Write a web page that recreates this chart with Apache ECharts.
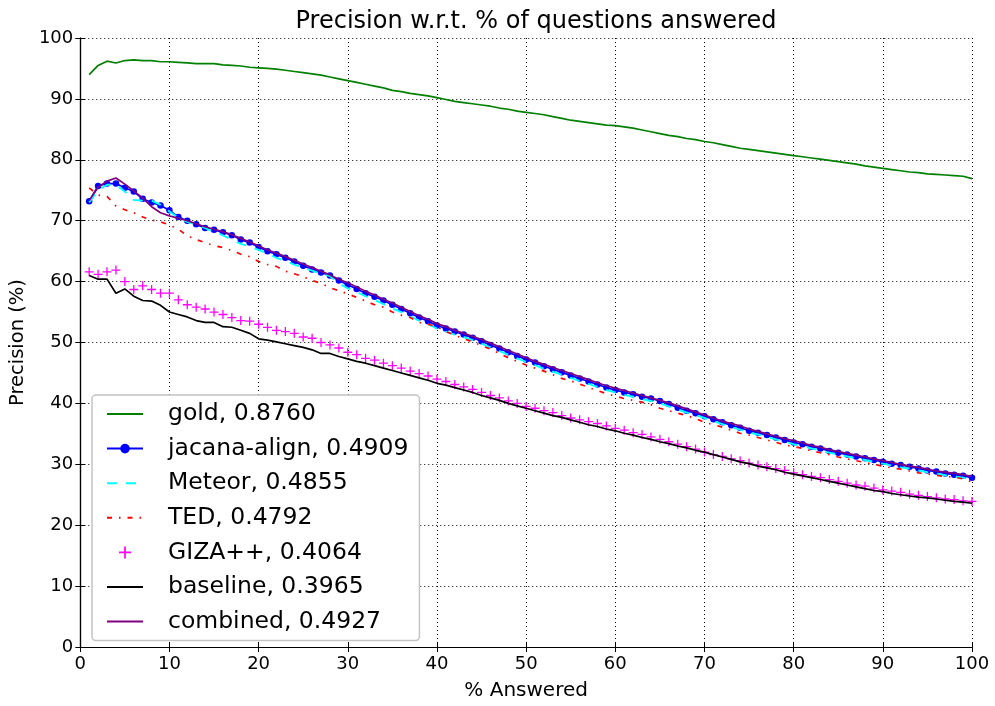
<!DOCTYPE html>
<html>
<head>
<meta charset="utf-8">
<script src="https://cdn.jsdelivr.net/npm/echarts@6/dist/echarts.min.js"></script>
<style>
html,body{margin:0;padding:0;background:#fff;}
#chart{width:995px;height:706px;}
</style>
</head>
<body>
<div id="chart"></div>
<script>
// % answered (x positions)
const answered = Array.from({length: 100}, (_, i) => i + 1);

const gold = [94.0,95.5,96.2,95.9,96.3,96.4,96.3,96.3,96.1,96.1,96.0,95.9,95.8,95.8,95.8,95.6,95.5,95.4,95.2,95.1,
95.0,94.9,94.7,94.5,94.3,94.1,93.9,93.6,93.3,93.0,92.7,92.4,92.1,91.8,91.4,91.2,90.9,90.7,90.5,90.2,
89.9,89.6,89.4,89.2,89.0,88.8,88.5,88.3,88.0,87.8,87.6,87.4,87.1,86.8,86.5,86.3,86.1,85.9,85.7,85.6,
85.4,85.2,84.9,84.6,84.3,84.0,83.8,83.5,83.3,83.0,82.8,82.5,82.2,81.9,81.7,81.5,81.3,81.1,80.9,80.7,
80.5,80.3,80.1,79.9,79.7,79.5,79.3,79.0,78.8,78.6,78.4,78.2,78.0,77.9,77.7,77.6,77.5,77.4,77.3,76.9];

const jacana = [73.2,75.7,76.1,76.1,75.4,74.8,73.6,73.0,72.5,71.7,70.6,70.0,69.4,68.8,68.5,68.1,67.6,66.9,66.4,65.7,
65.0,64.5,63.9,63.3,62.6,62.0,61.5,61.0,60.2,59.5,58.8,58.1,57.5,56.9,56.2,55.5,54.8,54.1,53.5,52.8,
52.3,51.8,51.3,50.8,50.2,49.6,49.0,48.4,47.8,47.2,46.7,46.1,45.6,45.1,44.6,44.1,43.6,43.1,42.6,42.2,
41.8,41.5,41.1,40.8,40.4,39.9,39.3,38.8,38.4,37.9,37.4,36.9,36.4,36.0,35.5,35.2,34.8,34.4,34.0,33.6,
33.3,32.9,32.6,32.2,31.9,31.6,31.3,31.0,30.7,30.4,30.1,29.9,29.6,29.3,29.0,28.8,28.5,28.3,28.1,27.8];

const meteor = [73.0,75.0,75.9,75.9,74.8,73.4,73.3,73.3,72.6,71.5,70.5,69.8,69.4,68.8,68.2,67.6,66.9,66.2,65.8,65.2,
64.6,63.9,63.4,62.8,62.3,61.8,61.3,60.9,59.7,58.9,58.3,57.6,57.0,56.3,55.6,55.0,54.3,53.6,53.0,52.3,
51.8,51.3,50.9,50.4,49.8,49.2,48.6,48.0,47.4,46.8,46.3,45.7,45.2,44.7,44.2,43.7,43.2,42.7,42.2,41.8,
41.4,41.1,40.7,40.4,40.0,39.5,39.0,38.5,38.1,37.6,37.1,36.6,36.1,35.7,35.2,34.9,34.5,34.1,33.7,33.3,
33.0,32.6,32.3,31.9,31.6,31.3,31.0,30.7,30.4,30.1,29.8,29.5,29.3,29.0,28.7,28.5,28.2,28.0,27.8,27.4];

const ted = [75.4,74.2,74.0,72.4,71.8,71.3,70.6,70.1,69.8,69.3,68.6,67.5,66.9,66.4,65.9,65.6,65.1,64.5,64.1,63.3,
62.8,62.5,61.7,61.3,60.8,60.2,59.7,59.0,58.5,58.0,57.4,56.8,56.2,55.8,55.0,54.5,54.1,53.3,53.0,52.6,
51.8,51.2,50.6,50.1,49.5,48.9,48.2,47.5,46.9,46.3,45.8,45.3,44.7,44.1,43.7,43.2,42.6,42.1,41.6,41.2,
40.8,40.5,40.2,39.8,39.2,38.8,38.4,38.0,37.5,36.9,36.5,36.1,35.6,35.1,34.8,34.4,34.0,33.6,33.2,32.9,
32.6,32.2,31.9,31.6,31.2,30.9,30.6,30.3,30.0,29.7,29.4,29.2,28.9,28.6,28.4,28.2,28.0,27.9,27.6,27.1];

const giza = [61.6,61.2,61.6,61.9,60.0,58.7,59.3,58.7,58.1,58.1,57.0,56.2,55.8,55.5,55.0,54.6,54.1,53.6,53.5,53.0,
52.5,52.0,51.8,51.5,50.9,50.7,50.0,49.6,49.1,48.4,48.0,47.4,47.1,46.6,46.2,45.8,45.3,44.9,44.5,44.0,
43.6,43.1,42.7,42.3,41.8,41.3,40.9,40.4,40.0,39.5,39.2,38.8,38.5,38.0,37.6,37.3,37.0,36.7,36.3,35.9,
35.6,35.2,34.9,34.5,34.1,33.7,33.3,32.9,32.5,32.0,31.6,31.3,30.9,30.6,30.2,29.9,29.6,29.3,29.0,28.6,
28.3,28.0,27.8,27.5,27.2,26.9,26.6,26.4,26.1,25.8,25.6,25.4,25.1,24.9,24.7,24.5,24.3,24.2,24.0,23.9];

const baseline = [61.0,60.4,60.4,58.1,58.8,57.6,56.9,56.8,56.1,55.0,54.6,54.2,53.6,53.3,53.3,52.6,52.5,52.0,51.5,50.6,
50.4,50.1,49.8,49.5,49.2,48.8,48.2,48.2,47.7,47.3,46.9,46.6,46.2,45.8,45.4,45.0,44.6,44.2,43.8,43.3,
43.0,42.6,42.2,41.8,41.3,40.9,40.5,40.0,39.6,39.2,38.8,38.4,38.0,37.7,37.3,36.9,36.5,36.2,35.8,35.5,
35.1,34.8,34.4,34.1,33.7,33.4,33.0,32.7,32.3,32.0,31.6,31.2,30.8,30.4,30.1,29.7,29.4,29.1,28.7,28.4,
28.1,27.8,27.5,27.2,26.9,26.6,26.3,26.0,25.7,25.5,25.2,25.0,24.8,24.6,24.5,24.3,24.1,23.9,23.8,23.6];

const combined = [73.3,75.5,76.5,77.0,76.0,74.9,73.7,72.3,71.3,70.8,70.4,70.0,69.5,69.0,68.6,68.2,67.7,67.1,66.5,65.9,
65.2,64.7,64.1,63.5,62.9,62.3,61.7,61.1,60.4,59.8,59.1,58.4,57.8,57.1,56.5,55.8,55.1,54.4,53.8,53.1,
52.6,52.0,51.5,51.0,50.5,49.9,49.3,48.7,48.1,47.5,46.9,46.4,45.9,45.4,44.9,44.4,43.9,43.4,42.9,42.5,
42.1,41.7,41.3,40.9,40.5,40.1,39.6,39.1,38.6,38.1,37.6,37.1,36.7,36.3,35.8,35.4,35.0,34.6,34.2,33.9,
33.5,33.1,32.8,32.4,32.1,31.8,31.5,31.2,30.9,30.6,30.3,30.0,29.7,29.5,29.2,28.9,28.7,28.5,28.3,28.0];

const seriesNames = ['gold, 0.8760','jacana-align, 0.4909','Meteor, 0.4855','TED, 0.4792','GIZA++, 0.4064','baseline, 0.3965','combined, 0.4927'];
const xTicks = [0,10,20,30,40,50,60,70,80,90,100];
const yTicks = [0,10,20,30,40,50,60,70,80,90,100];

const pairs = arr => arr.map((v, i) => [answered[i], v]);
const FONT = 'DejaVu Sans';
const plusPath = 'path://M3.85,0H5.15V3.85H9V5.15H5.15V9H3.85V5.15H0V3.85H3.85Z';

const chart = echarts.init(document.getElementById('chart'), null, {renderer: 'canvas'});

const baseAxis = {
  type: 'value', min: 0, max: 100, interval: 10,
  axisLine: {show: true, lineStyle: {color: '#000', width: 1.2}},
  axisTick: {show: true, inside: true, length: 5, lineStyle: {color: '#000', width: 1}},
  splitLine: {show: false}
};

const noMarker = {itemStyle: {opacity: 0}};

chart.setOption({
  animation: false,
  backgroundColor: '#fff',
  textStyle: {fontFamily: FONT},
  title: {
    text: 'Precision w.r.t. % of questions answered',
    left: 531, top: 5, textAlign: 'center',
    textStyle: {fontFamily: FONT, fontSize: 24, fontWeight: 'normal', color: '#000'}
  },
  grid: {left: 79, right: 23, top: 38, bottom: 53, containLabel: false},
  xAxis: [
    Object.assign({}, baseAxis, {
      position: 'bottom',
      name: '% Answered', nameLocation: 'middle', nameGap: 34,
      nameTextStyle: {fontFamily: FONT, fontSize: 20, color: '#000'},
      axisLabel: {show: true, margin: 8, fontFamily: FONT, fontSize: 18, color: '#000'},
      splitLine: {show: true, lineStyle: {color: '#000', width: 1, type: [1, 3]}}
    }),
    Object.assign({}, baseAxis, {position: 'top', axisLabel: {show: false}})
  ],
  yAxis: [
    Object.assign({}, baseAxis, {
      position: 'left',
      name: 'Precision (%)', nameLocation: 'middle', nameGap: 49, nameRotate: 90,
      nameTextStyle: {fontFamily: FONT, fontSize: 19.5, color: '#000'},
      axisLabel: {show: true, margin: 7, fontFamily: FONT, fontSize: 18, color: '#000'},
      splitLine: {show: true, lineStyle: {color: '#000', width: 1, type: [1, 3]}}
    }),
    Object.assign({}, baseAxis, {position: 'right', axisLabel: {show: false}})
  ],
  legend: {
    orient: 'vertical', left: 92, top: 395,
    padding: [7, 11, 7, 14],
    itemGap: 10.6, itemWidth: 36, itemHeight: 12,
    backgroundColor: '#fff', borderColor: '#c4c4c4', borderWidth: 1.5, borderRadius: 4,
    textStyle: {fontFamily: FONT, fontSize: 23.5, color: '#000', lineHeight: 24, padding: [0, 0, 0, 20]},
    data: [
      Object.assign({name: seriesNames[0]}, noMarker),
      {name: seriesNames[1]},
      Object.assign({name: seriesNames[2]}, noMarker),
      Object.assign({name: seriesNames[3]}, noMarker),
      {name: seriesNames[4]},
      Object.assign({name: seriesNames[5]}, noMarker),
      Object.assign({name: seriesNames[6]}, noMarker)
    ]
  },
  series: [
    {name: seriesNames[0], type: 'line', data: pairs(gold), showSymbol: false, symbol: 'none',
     lineStyle: {color: '#008000', width: 1.7}, itemStyle: {color: '#008000'}, z: 2},
    {name: seriesNames[1], type: 'line', data: pairs(jacana), symbol: 'circle', symbolSize: 6.5, showSymbol: true,
     lineStyle: {color: '#0000ff', width: 1.7}, itemStyle: {color: '#0000ff'}, z: 3},
    {name: seriesNames[2], type: 'line', data: pairs(meteor), symbol: 'none',
     lineStyle: {color: '#00ffff', width: 1.9, type: [10, 9]}, itemStyle: {color: '#00ffff'}, z: 4},
    {name: seriesNames[3], type: 'line', data: pairs(ted), symbol: 'none',
     lineStyle: {color: '#ff0000', width: 1.7, type: [5, 7, 1.5, 7]}, itemStyle: {color: '#ff0000'}, z: 5},
    {name: seriesNames[4], type: 'scatter', data: pairs(giza), symbol: plusPath, symbolSize: 9,
     itemStyle: {color: '#ff00ff', opacity: 1}, z: 6},
    {name: seriesNames[5], type: 'line', data: pairs(baseline), symbol: 'none',
     lineStyle: {color: '#000000', width: 1.7}, itemStyle: {color: '#000000'}, z: 7},
    {name: seriesNames[6], type: 'line', data: pairs(combined), symbol: 'none',
     lineStyle: {color: '#800080', width: 1.7}, itemStyle: {color: '#800080'}, z: 8}
  ]
});
</script>
</body>
</html>
